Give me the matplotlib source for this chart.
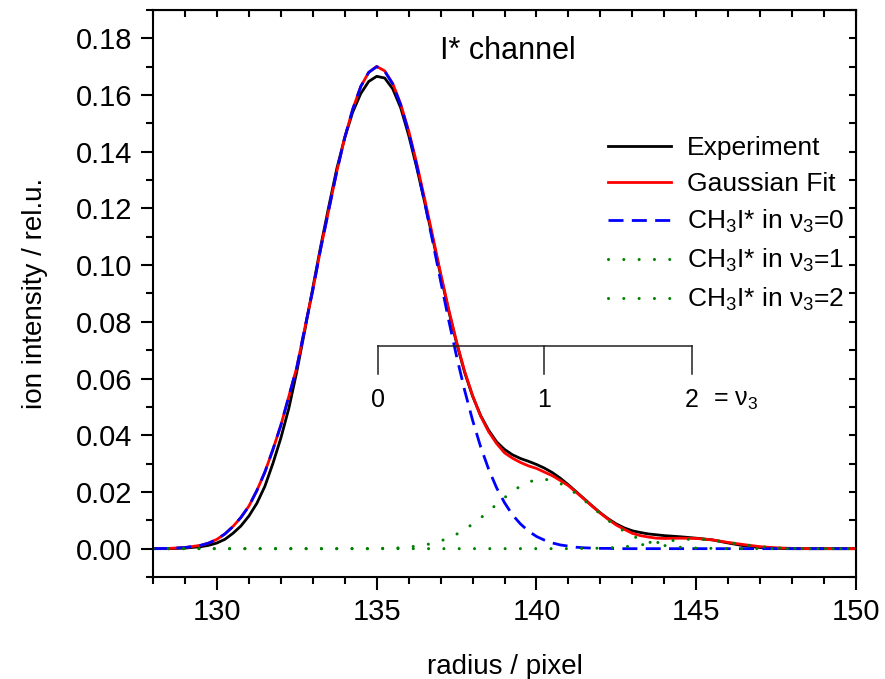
import matplotlib
matplotlib.use("Agg")
import matplotlib.pyplot as plt
from matplotlib.ticker import MultipleLocator, FormatStrFormatter

plt.rcParams['font.family'] = ['Liberation Sans', 'DejaVu Sans']
plt.rcParams['mathtext.fontset'] = 'custom'
plt.rcParams['mathtext.rm'] = 'Liberation Sans'
plt.rcParams['mathtext.it'] = 'Liberation Sans:italic'
plt.rcParams['mathtext.default'] = 'regular'

# radius grid (pixel), denser where the curves bend
radius = [128, 128.5, 129,
          129.5, 129.75, 130, 130.25, 130.5, 130.75, 131, 131.25, 131.5, 131.75, 132, 132.25, 132.5, 132.75,
          133, 133.25, 133.5, 133.75, 134, 134.25, 134.5, 134.75, 135, 135.25, 135.5, 135.75, 136, 136.25, 136.5, 136.75,
          137, 137.25, 137.5, 137.75, 138, 138.25, 138.5, 138.75, 139, 139.25, 139.5, 139.75, 140, 140.25, 140.5, 140.75,
          141, 141.25, 141.5, 141.75, 142, 142.25, 142.5, 142.75, 143, 143.25, 143.5, 143.75, 144,
          144.5, 145, 145.5, 146, 146.5, 147, 147.5, 148, 148.5, 149, 149.5, 150]

experiment = ([0.0000, 0.0000, 0.0002]
              + [0.0007, 0.0012, 0.0020, 0.0033, 0.0054, 0.0080, 0.0115, 0.0160, 0.0220, 0.0300, 0.0390, 0.0495, 0.0625, 0.0770]
              + [0.0920, 0.1068, 0.1207, 0.1340, 0.1450, 0.1540, 0.1605, 0.1648, 0.1666, 0.1660, 0.1622, 0.1555, 0.1458, 0.1345, 0.1222, 0.1095]
              + [0.0965, 0.0840, 0.0725, 0.0622, 0.0538, 0.0470, 0.0418, 0.0377, 0.0350, 0.0331, 0.0318, 0.0308, 0.0297, 0.0284, 0.0268, 0.0248]
              + [0.0225, 0.0200, 0.0175, 0.0150, 0.0126, 0.0105, 0.0087, 0.0073, 0.0063, 0.0057, 0.0052, 0.0049, 0.0046]
              + [0.0042, 0.0037, 0.0031, 0.0020, 0.0010, 0.0004, 0.0001, 0.0000, 0.0000, 0.0000, 0.0000, 0.0000])

gauss_fit = ([0.0000, 0.0001, 0.0004]
             + [0.0012, 0.0020, 0.0033, 0.0052, 0.0078, 0.0110, 0.0150, 0.0205, 0.0270, 0.0349, 0.0435, 0.0537, 0.0640, 0.0778]
             + [0.0912, 0.1060, 0.1195, 0.1330, 0.1450, 0.1550, 0.1630, 0.1680, 0.1701, 0.1685, 0.1641, 0.1568, 0.1474, 0.1360, 0.1234, 0.1103]
             + [0.0971, 0.0845, 0.0729, 0.0626, 0.0540, 0.0468, 0.0413, 0.0371, 0.0338, 0.0319, 0.0304, 0.0292, 0.0283, 0.0270, 0.0257, 0.0240]
             + [0.0222, 0.0198, 0.0174, 0.0149, 0.0125, 0.0103, 0.0083, 0.0068, 0.0054, 0.0046, 0.0041, 0.0037, 0.0036]
             + [0.0037, 0.0036, 0.0031, 0.0022, 0.0014, 0.0007, 0.0003, 0.0001, 0.0000, 0.0000, 0.0000, 0.0000])

v3_0 = ([0.0000, 0.0001, 0.0004]
        + [0.0012, 0.0020, 0.0033, 0.0052, 0.0078, 0.0110, 0.0150, 0.0205, 0.0270, 0.0349, 0.0435, 0.0537, 0.0640, 0.0778]
        + [0.0912, 0.1060, 0.1195, 0.1330, 0.1450, 0.1550, 0.1630, 0.1680, 0.1700, 0.1684, 0.1639, 0.1565, 0.1468, 0.1351, 0.1221, 0.1084]
        + [0.0944, 0.0807, 0.0678, 0.0559, 0.0453, 0.0360, 0.0281, 0.0215, 0.0162, 0.0119, 0.0087, 0.0062, 0.0043, 0.0030, 0.0020, 0.0013]
        + [0.0009, 0.0005, 0.0003, 0.0002, 0.0001, 0.0001, 0.0000, 0.0000, 0.0000, 0.0000, 0.0000, 0.0000, 0.0000]
        + [0.0] * 12)

v3_1 = ([0.0] * 3 + [0.0] * 14
        + [0.0] * 8 + [0.0001, 0.0001, 0.0002, 0.0003, 0.0006, 0.0009, 0.0013, 0.0019]
        + [0.0027, 0.0038, 0.0051, 0.0067, 0.0087, 0.0108, 0.0132, 0.0156, 0.0180, 0.0202, 0.0221, 0.0235, 0.0243, 0.0245, 0.0240, 0.0230]
        + [0.0213, 0.0193, 0.0170, 0.0146, 0.0122, 0.0099, 0.0079, 0.0061, 0.0045, 0.0033, 0.0024, 0.0016, 0.0011]
        + [0.0005, 0.0002, 0.0001] + [0.0] * 9)

v3_2 = ([0.0] * 3 + [0.0] * 14 + [0.0] * 16 + [0.0] * 16
        + [0.0000, 0.0000, 0.0001, 0.0001, 0.0002, 0.0003, 0.0004, 0.0007, 0.0009, 0.0013, 0.0017, 0.0021, 0.0025]
        + [0.0032, 0.0034, 0.0030, 0.0022, 0.0014, 0.0007, 0.0003, 0.0001, 0.0000, 0.0000, 0.0000, 0.0000])

# vibrational level positions marked by the comb
level_pos = [135.05, 140.24, 144.86]
level_names = ["0", "1", "2"]
comb_top = 0.0714
comb_bottom = 0.0615

fig = plt.figure(figsize=(8.85, 6.79), dpi=100)
ax = fig.add_axes([0.1729, 0.1502, 0.7944, 0.8351])

ax.plot(radius, experiment, color="black", lw=2.0, solid_joinstyle="round", label="Experiment")
ax.plot(radius, gauss_fit, color="#ff0000", lw=2.0, solid_joinstyle="round", label="Gaussian Fit")
ax.plot(radius, v3_0, color="#0000ff", lw=2.0, dashes=(5.4, 3.0),
        label="CH$_3$I* in ν$_3$=0")
ax.plot(radius, v3_1, color="#008000", lw=2.2, dashes=(0.01, 5.0), dash_capstyle="round",
        label="CH$_3$I* in ν$_3$=1")
ax.plot(radius, v3_2, color="#008000", lw=2.2, dashes=(0.01, 5.0), dash_capstyle="round",
        label="CH$_3$I* in ν$_3$=2")

# level comb
ax.plot([level_pos[0], level_pos[-1]], [comb_top, comb_top], color="#222222", lw=1.1)
for p, n in zip(level_pos, level_names):
    ax.plot([p, p], [comb_top, comb_bottom], color="#222222", lw=1.1)
    ax.annotate(n, (p, comb_bottom), xytext=(0, -10), textcoords="offset points",
                ha="center", va="top", fontsize=18)
ax.annotate("= ν$_3$", (level_pos[-1], comb_bottom), xytext=(15, -10),
            textcoords="offset points", ha="left", va="top", fontsize=18)

ax.text(0.505, 0.928, "I* channel", transform=ax.transAxes, ha="center",
        va="center", fontsize=22)

ax.set_xlim(128, 150)
ax.set_ylim(-0.01, 0.19)
ax.xaxis.set_major_locator(MultipleLocator(5))
ax.xaxis.set_minor_locator(MultipleLocator(1))
ax.yaxis.set_major_locator(MultipleLocator(0.02))
ax.yaxis.set_minor_locator(MultipleLocator(0.01))
ax.yaxis.set_major_formatter(FormatStrFormatter("%.2f"))

for s in ax.spines.values():
    s.set_linewidth(1.5)
ax.tick_params(which="both", direction="out", width=1.5, labelsize=21, pad=6,
               top=False, right=False)
ax.tick_params(which="major", length=9)
ax.tick_params(which="minor", length=5)

# mirrored inward ticks on the opposite sides
ax2 = ax.secondary_yaxis("right")
ax2.yaxis.set_major_locator(MultipleLocator(0.02))
ax2.yaxis.set_minor_locator(MultipleLocator(0.01))
ax2.tick_params(which="both", direction="in", width=1.5, length=5, labelright=False)
ax3 = ax.secondary_xaxis("top")
ax3.xaxis.set_major_locator(MultipleLocator(5))
ax3.xaxis.set_minor_locator(MultipleLocator(1))
ax3.tick_params(which="both", direction="in", width=1.5, length=5, labeltop=False)

ax.set_xlabel("radius / pixel", fontsize=20, labelpad=20)
ax.set_ylabel("ion intensity / rel.u.", fontsize=20, labelpad=20)

ax.legend(loc="upper left", bbox_to_anchor=(608 / 885, 1 - 136 / 679),
          bbox_transform=fig.transFigure, frameon=False, fontsize=19,
          handlelength=2.4, handletextpad=0.6, labelspacing=0.45,
          borderpad=0, borderaxespad=0)

fig.savefig("out.png", dpi=100)
